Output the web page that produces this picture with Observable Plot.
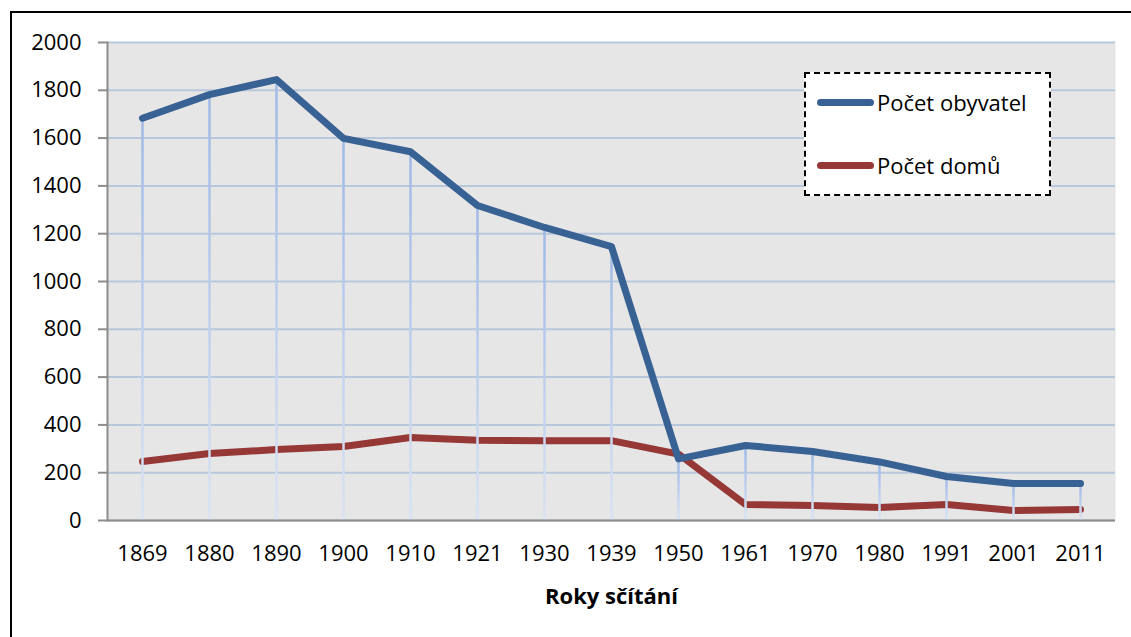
<!DOCTYPE html>
<html>
<head>
<meta charset="utf-8">
<script src="https://cdn.jsdelivr.net/npm/d3@7"></script>
<script src="https://cdn.jsdelivr.net/npm/@observablehq/plot@0.6"></script>
<style>
  html, body { margin: 0; padding: 0; background: #fff; overflow: hidden; }
  #wrap { position: relative; width: 1131px; height: 637px; overflow: hidden; font-family: "Open Sans", sans-serif; }
  #border { position: absolute; left: 10px; top: 11px; width: 1200px; height: 700px; border: 2px solid #000; box-sizing: border-box; pointer-events: none; }
  #chart { position: absolute; left: 0; top: 0; }
  #legend { position: absolute; left: 804px; top: 72px; width: 247px; height: 124px; box-sizing: border-box; background: #fff; border: 2px dashed #000; }
  .lg-item { position: absolute; left: 0; height: 30px; width: 100%; }
  .lg-bar { position: absolute; left: 11px; width: 57px; height: 7px; border-radius: 4px; }
  .lg-text { position: absolute; left: 71px; font-size: 22px; line-height: 30px; color: #000; white-space: nowrap; }
  g[aria-label="x-axis label"] text { font-weight: bold; }
</style>
</head>
<body>
<div id="wrap">
  <div id="chart"></div>
  <div id="legend"></div>
  <div id="border"></div>
</div>
<script>
const years = ["1869","1880","1890","1900","1910","1921","1930","1939","1950","1961","1970","1980","1991","2001","2011"];
const obyvatel = [1683, 1782, 1845, 1599, 1543, 1318, 1226, 1146, 258, 314, 289, 245, 184, 155, 155];
const domu = [247, 280, 297, 310, 347, 336, 334, 334, 278, 67, 63, 54, 67, 42, 46];
const yTicks = [0, 200, 400, 600, 800, 1000, 1200, 1400, 1600, 1800, 2000];
const seriesNames = ["Počet obyvatel", "Počet domů"];
const seriesColors = ["#386194", "#953836"];
const xTitle = "Roky sčítání";

const popData = years.map((y, i) => ({year: y, value: obyvatel[i]}));
const houseData = years.map((y, i) => ({year: y, value: domu[i]}));

const DROP = "#a7bfe8";
const font = "\"Open Sans\", sans-serif";

const svg = Plot.plot({
  width: 1131,
  height: 637,
  marginLeft: 107,
  marginRight: 16,
  marginTop: 42,
  marginBottom: 117,
  style: {fontFamily: font, fontSize: "22px", color: "#000", background: "transparent"},
  x: {type: "point", domain: years, padding: 0.5},
  y: {domain: [0, 2000]},
  marks: [
    Plot.frame({fill: "#e6e6e6", stroke: null}),
    Plot.gridY(yTicks, {stroke: "#b7c7dc", strokeOpacity: 1, strokeWidth: 2}),
    Plot.line(houseData, {x: "year", y: "value", stroke: seriesColors[1], strokeWidth: 7, strokeLinecap: "round", strokeLinejoin: "round"}),
    Plot.ruleX(popData, {x: "year", y1: 0, y2: "value", stroke: DROP, strokeWidth: 2.5}),
    Plot.line(popData, {x: "year", y: "value", stroke: seriesColors[0], strokeWidth: 7, strokeLinecap: "round", strokeLinejoin: "round"}),
    Plot.ruleY([0], {stroke: "#8c8c8c", strokeWidth: 2}),
    Plot.frame({anchor: "left", stroke: "#8c8c8c", strokeWidth: 2}),
    Plot.axisY(yTicks, {tickSize: 9, tickPadding: 17, stroke: "#8c8c8c", strokeWidth: 2, label: null, fontSize: 22, tickFormat: d => String(d)}),
    Plot.axisX({tickSize: 0, tickPadding: 25, fontSize: 22, label: xTitle, labelAnchor: "center", labelOffset: 83})
  ]
});

// per-line vertical gradient on drop lines
const ns = "http://www.w3.org/2000/svg";
const defs = document.createElementNS(ns, "defs");
svg.insertBefore(defs, svg.firstChild);
let gi = 0;
svg.querySelectorAll('g[aria-label="rule"]').forEach(g => {
  if ((g.getAttribute("stroke") || "").toLowerCase() !== DROP) return;
  g.querySelectorAll("line").forEach(line => {
    const id = "dropgrad" + (gi++);
    const grad = document.createElementNS(ns, "linearGradient");
    grad.setAttribute("id", id);
    grad.setAttribute("gradientUnits", "userSpaceOnUse");
    grad.setAttribute("x1", line.getAttribute("x1"));
    grad.setAttribute("x2", line.getAttribute("x1"));
    grad.setAttribute("y1", line.getAttribute("y2"));
    grad.setAttribute("y2", line.getAttribute("y1"));
    [["0", "#9fb9e6"], ["1", "#dae3f3"]].forEach(([o, c]) => {
      const s = document.createElementNS(ns, "stop");
      s.setAttribute("offset", o);
      s.setAttribute("stop-color", c);
      grad.appendChild(s);
    });
    defs.appendChild(grad);
    line.setAttribute("stroke", `url(#${id})`);
  });
});

document.getElementById("chart").appendChild(svg);

// legend
const legend = document.getElementById("legend");
seriesNames.forEach((name, i) => {
  const item = document.createElement("div");
  item.className = "lg-item";
  item.style.top = (i === 0 ? 13 : 76) + "px";
  const bar = document.createElement("div");
  bar.className = "lg-bar";
  bar.style.background = seriesColors[i];
  bar.style.top = "12px";
  const txt = document.createElement("div");
  txt.className = "lg-text";
  txt.textContent = name;
  item.appendChild(bar);
  item.appendChild(txt);
  legend.appendChild(item);
});
</script>
</body>
</html>
